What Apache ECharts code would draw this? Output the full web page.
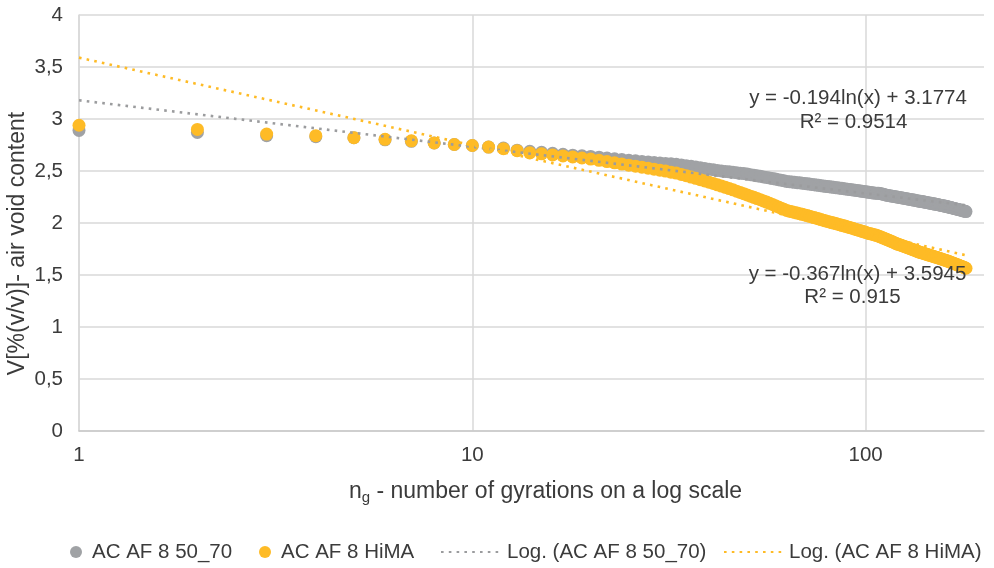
<!DOCTYPE html>
<html>
<head>
<meta charset="utf-8">
<script src="https://cdn.jsdelivr.net/npm/echarts@6/dist/echarts.min.js"></script>
<style>
html,body{margin:0;padding:0;background:#fff;}
#chart{width:994px;height:568px;}
</style>
</head>
<body>
<div id="chart"></div>
<script>
// ---- data ----
const gyrations = [
  1,2,3,4,5,6,7,8,9,10,11,12,13,14,15,16,17,18,19,20,
  21,22,23,24,25,26,27,28,29,30,31,32,33,34,35,36,37,38,39,40,
  41,42,43,44,45,46,47,48,49,50,51,52,53,54,55,56,57,58,59,60,
  61,62,63,64,65,66,67,68,69,70,71,72,73,74,75,76,77,78,79,80,
  81,82,83,84,85,86,87,88,89,90,91,92,93,94,95,96,97,98,99,100,
  101,102,103,104,105,106,107,108,109,110,111,112,113,114,115,116,117,118,119,120,
  121,122,123,124,125,126,127,128,129,130,131,132,133,134,135,136,137,138,139,140,
  141,142,143,144,145,146,147,148,149,150,151,152,153,154,155,156,157,158,159,160,
  161,162,163,164,165,166,167,168,169,170,171,172,173,174,175,176,177,178,179,180
];
const voidsAC5070 = [
  2.89,2.87,2.84,2.83,2.82,2.80,2.785,2.77,2.755,2.745,
  2.73,2.72,2.70,2.69,2.68,2.67,2.66,2.652,2.646,2.64,
  2.633,2.625,2.618,2.61,2.603,2.598,2.592,2.587,2.582,2.578,
  2.573,2.569,2.565,2.558,2.551,2.545,2.538,2.531,2.525,2.518,
  2.512,2.506,2.50,2.496,2.492,2.487,2.483,2.479,2.475,2.47,
  2.465,2.459,2.454,2.449,2.443,2.438,2.433,2.427,2.422,2.417,
  2.411,2.406,2.40,2.397,2.394,2.391,2.388,2.386,2.383,2.38,
  2.377,2.374,2.371,2.368,2.365,2.362,2.359,2.356,2.353,2.35,
  2.348,2.345,2.343,2.34,2.338,2.335,2.333,2.33,2.328,2.325,
  2.323,2.32,2.318,2.315,2.313,2.31,2.308,2.305,2.303,2.30,
  2.298,2.295,2.293,2.29,2.288,2.286,2.287,2.285,2.283,2.28,
  2.276,2.272,2.268,2.265,2.262,2.26,2.258,2.256,2.253,2.25,
  2.248,2.245,2.243,2.241,2.238,2.236,2.234,2.231,2.229,2.227,
  2.224,2.222,2.22,2.217,2.215,2.212,2.21,2.208,2.206,2.204,
  2.202,2.199,2.197,2.195,2.193,2.191,2.189,2.186,2.184,2.182,
  2.18,2.178,2.176,2.173,2.171,2.169,2.167,2.165,2.162,2.16,
  2.158,2.155,2.153,2.15,2.148,2.145,2.143,2.14,2.138,2.135,
  2.133,2.13,2.128,2.125,2.123,2.12,2.118,2.115,2.113,2.11
];
const voidsHiMA = [
  2.94,2.90,2.855,2.84,2.82,2.805,2.79,2.77,2.755,2.745,
  2.73,2.715,2.695,2.675,2.665,2.655,2.645,2.635,2.625,2.615,
  2.603,2.591,2.579,2.567,2.556,2.546,2.537,2.527,2.518,2.508,
  2.499,2.489,2.48,2.467,2.455,2.442,2.43,2.417,2.405,2.392,
  2.38,2.367,2.355,2.343,2.331,2.319,2.306,2.294,2.282,2.27,
  2.258,2.247,2.235,2.224,2.212,2.201,2.189,2.178,2.166,2.155,
  2.143,2.132,2.12,2.114,2.108,2.101,2.095,2.089,2.083,2.077,
  2.071,2.064,2.058,2.052,2.046,2.04,2.033,2.027,2.021,2.015,
  2.01,2.004,1.999,1.994,1.989,1.983,1.978,1.973,1.968,1.962,
  1.957,1.952,1.947,1.941,1.936,1.931,1.926,1.92,1.915,1.91,
  1.905,1.90,1.896,1.892,1.888,1.884,1.879,1.873,1.867,1.861,
  1.855,1.849,1.843,1.837,1.831,1.825,1.819,1.813,1.806,1.80,
  1.795,1.791,1.786,1.781,1.777,1.772,1.767,1.762,1.758,1.753,
  1.748,1.744,1.739,1.734,1.729,1.725,1.72,1.716,1.713,1.709,
  1.706,1.702,1.699,1.695,1.692,1.688,1.685,1.681,1.678,1.674,
  1.671,1.668,1.664,1.661,1.657,1.654,1.65,1.647,1.643,1.64,
  1.636,1.632,1.629,1.625,1.621,1.617,1.614,1.61,1.606,1.602,
  1.599,1.595,1.591,1.587,1.584,1.58,1.576,1.572,1.569,1.565
];
const trendX = [1, 180];
const trendAC5070 = [3.18, 2.17];
const trendHiMA = [3.59, 1.69];
const seriesNames = ['AC AF 8 50_70', 'AC AF 8 HiMA', 'Log. (AC AF 8 50_70)', 'Log. (AC AF 8 HiMA)'];
const xTickValues = [1, 10, 100];
const eqAC5070 = ['y = -0.194ln(x) + 3.1774', 'R² = 0.9514'];
const eqHiMA = ['y = -0.367ln(x) + 3.5945', 'R² = 0.915'];

// ---- styling ----
const FONT = "'Liberation Sans', Arial, sans-serif";
const TXT = '#3b3b3b';
const GRAY = '#A0A2A5';
const YELLOW = '#FEBB26';
const GRID_C = '#D9D9D9';
const LBL = 20.5;
const TTL = 23;

const pairs = (xs, ys) => xs.map((x, i) => [x, ys[i]]);

const chart = echarts.init(document.getElementById('chart'), null, {renderer: 'canvas'});

const legendBase = {
  orient: 'horizontal', top: 541, padding: 0,
  itemHeight: 12,
  textStyle: {fontSize: LBL, fontFamily: FONT, color: TXT, lineHeight: 22},
  selectedMode: false
};

chart.setOption({
  animation: false,
  backgroundColor: '#fff',
  textStyle: {fontFamily: FONT},
  grid: {left: 79, right: 10, top: 15, bottom: 137, containLabel: false, outerBoundsMode: 'none'},
  xAxis: {
    type: 'log', logBase: 10, min: 1, max: 200,
    name: 'n{sub|g} - number of gyrations on a log scale',
    nameLocation: 'middle', nameGap: 47, nameMoveOverlap: false,
    nameTextStyle: {
      fontSize: TTL, fontFamily: FONT, color: TXT, padding: [0, 0, 0, 28],
      rich: {sub: {fontSize: 15, fontFamily: FONT, color: TXT, padding: [12, 0, 0, 0]}}
    },
    axisLine: {show: true, lineStyle: {color: '#C9C9C9', width: 1.5}},
    axisTick: {show: false},
    axisLabel: {
      fontSize: LBL, fontFamily: FONT, color: TXT, margin: 14,
      showMaxLabel: false,
      formatter: v => xTickValues.some(t => Math.abs(t - v) < 1e-6) ? String(v) : ''
    },
    splitLine: {show: true, showMaxLine: false, lineStyle: {color: GRID_C, width: 1.5}}
  },
  yAxis: {
    type: 'value', min: 0, max: 4, interval: 0.5,
    name: 'V[%(v/v)]- air void content',
    nameLocation: 'middle', nameGap: 50, nameMoveOverlap: false,
    nameTextStyle: {fontSize: TTL, fontFamily: FONT, color: TXT, padding: [0, 41, 0, 0]},
    axisLine: {show: true, lineStyle: {color: GRID_C, width: 1.5}},
    axisTick: {show: false},
    axisLabel: {
      fontSize: LBL, fontFamily: FONT, color: TXT, margin: 16,
      formatter: v => String(v).replace('.', ',')
    },
    splitLine: {show: true, lineStyle: {color: GRID_C, width: 1.5}}
  },
  legend: [
    Object.assign({}, legendBase, {data: [seriesNames[0]], left: 70, itemWidth: 22}),
    Object.assign({}, legendBase, {data: [seriesNames[1]], left: 259, itemWidth: 22}),
    Object.assign({}, legendBase, {data: [seriesNames[2]], left: 440, itemWidth: 61, itemStyle: {opacity: 0}}),
    Object.assign({}, legendBase, {data: [seriesNames[3]], left: 723, itemWidth: 60, itemStyle: {opacity: 0}})
  ],
  series: [
    {
      name: seriesNames[0], type: 'scatter', symbol: 'circle', symbolSize: 13,
      itemStyle: {color: GRAY, opacity: 1},
      data: pairs(gyrations, voidsAC5070), z: 2
    },
    {
      name: seriesNames[1], type: 'scatter', symbol: 'circle', symbolSize: 13,
      itemStyle: {color: YELLOW, opacity: 1},
      data: pairs(gyrations, voidsHiMA), z: 3
    },
    {
      name: seriesNames[2], type: 'line', symbol: 'none', showSymbol: false,
      lineStyle: {color: '#9B9C9E', width: 2.6, type: [2.6, 5.2]},
      itemStyle: {color: '#9B9C9E'},
      data: pairs(trendX, trendAC5070), z: 4
    },
    {
      name: seriesNames[3], type: 'line', symbol: 'none', showSymbol: false,
      lineStyle: {color: YELLOW, width: 2.6, type: [2.6, 5.2]},
      itemStyle: {color: YELLOW},
      data: pairs(trendX, trendHiMA), z: 5
    }
  ],
  graphic: [
    {type: 'text', x: 858, y: 98, z: 100, style: {text: eqAC5070[0], fontSize: LBL, fontFamily: FONT, fill: TXT, align: 'center', verticalAlign: 'middle'}},
    {type: 'text', x: 853.5, y: 122, z: 100, style: {text: eqAC5070[1], fontSize: LBL, fontFamily: FONT, fill: TXT, align: 'center', verticalAlign: 'middle'}},
    {type: 'text', x: 857.5, y: 274, z: 100, style: {text: eqHiMA[0], fontSize: LBL, fontFamily: FONT, fill: TXT, align: 'center', verticalAlign: 'middle'}},
    {type: 'text', x: 852.5, y: 297, z: 100, style: {text: eqHiMA[1], fontSize: LBL, fontFamily: FONT, fill: TXT, align: 'center', verticalAlign: 'middle'}}
  ]
});
</script>
</body>
</html>
